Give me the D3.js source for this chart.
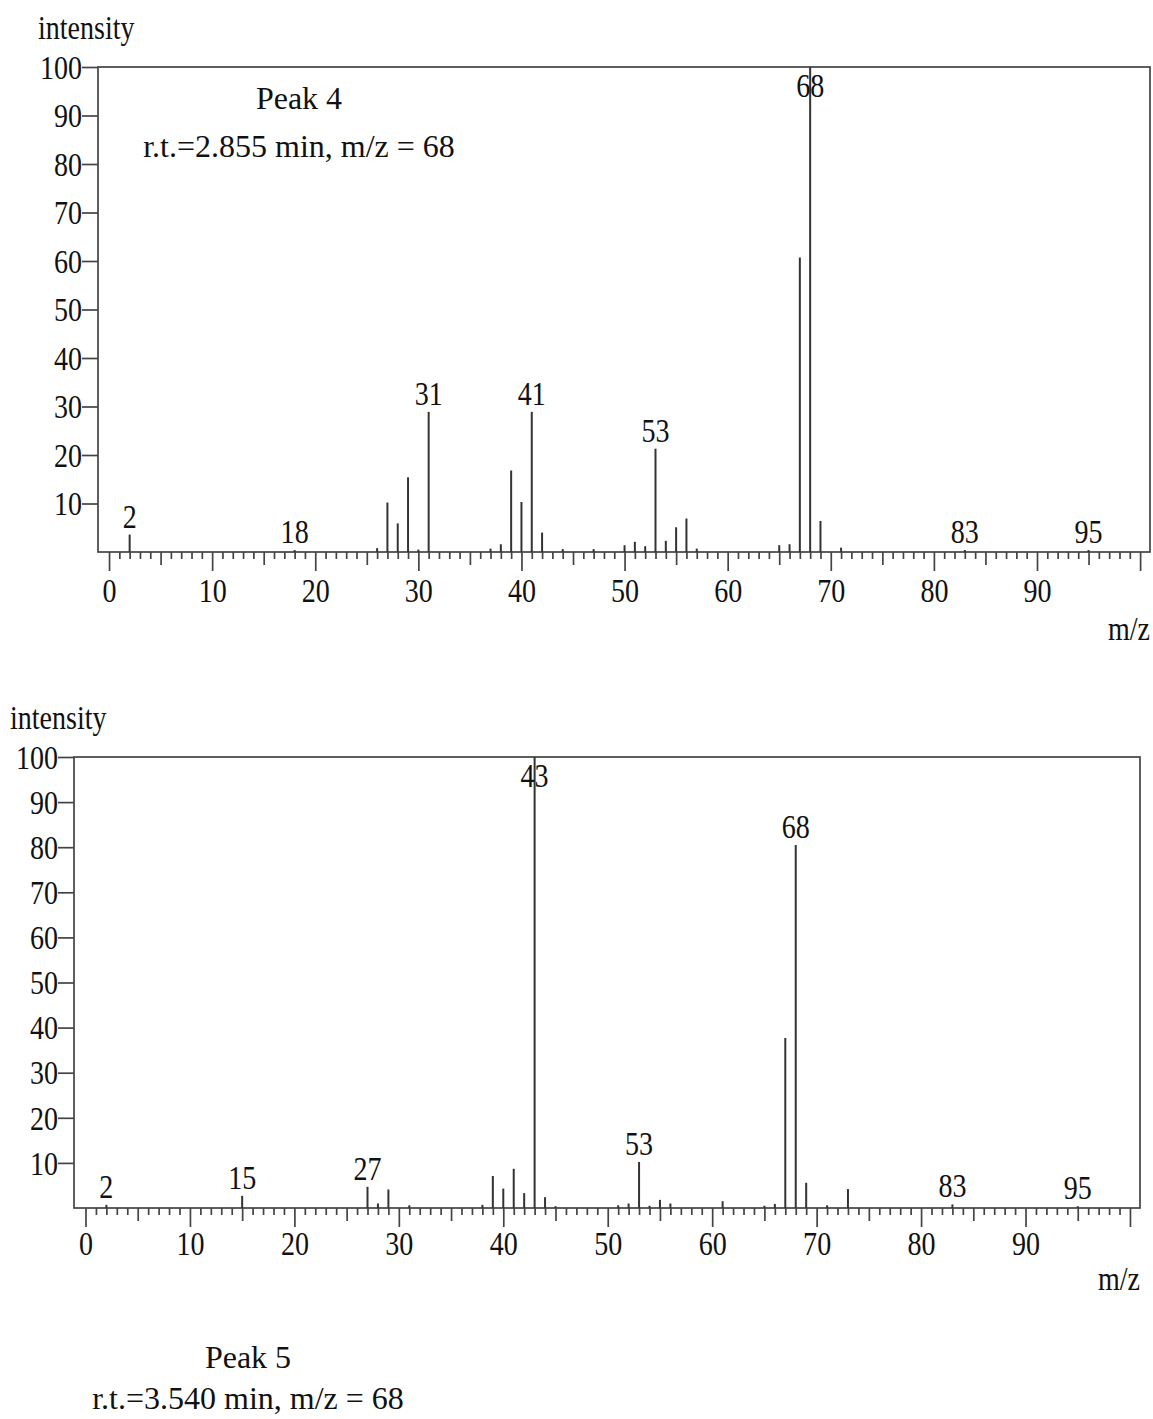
<!DOCTYPE html>
<html>
<head>
<meta charset="utf-8">
<script src="https://cdn.jsdelivr.net/npm/d3@7/dist/d3.min.js"></script>
<style>
  body { margin: 0; background: #fff; }
  svg, svg text { font-family: "Liberation Serif", "Times New Roman", serif; }
</style>
</head>
<body>
<div id="chart"></div>
<script>
// Peak 4 spectrum (m/z, relative intensity)
const peak4Mz  = [2, 18, 26, 27, 28, 29, 30, 31, 37, 38, 39, 40, 41, 42, 44, 47, 50, 51, 52, 53, 54, 55, 56, 57, 65, 66, 67, 68, 69, 71, 83, 95];
const peak4Int = [3.6, 0.4, 0.8, 10.2, 5.9, 15.4, 0.5, 28.9, 0.7, 1.6, 16.8, 10.3, 28.9, 4.0, 0.6, 0.6, 1.4, 2.1, 1.2, 21.3, 2.3, 5.1, 6.9, 0.7, 1.4, 1.6, 60.7, 100, 6.4, 0.9, 0.4, 0.4];
const peak4Labels = [2, 18, 31, 41, 53, 68, 83, 95];

// Peak 5 spectrum
const peak5Mz  = [2, 15, 27, 28, 29, 31, 38, 39, 40, 41, 42, 43, 44, 45, 51, 52, 53, 54, 55, 56, 61, 65, 66, 67, 68, 69, 71, 73, 83, 95];
const peak5Int = [0.7, 2.7, 4.7, 1.0, 4.1, 0.6, 0.7, 7.1, 4.3, 8.7, 3.3, 100, 2.4, 0.4, 0.6, 1.0, 10.2, 0.5, 1.8, 1.0, 1.5, 0.5, 0.9, 37.7, 80.5, 5.6, 0.6, 4.2, 0.8, 0.4];
const peak5Labels = [2, 15, 27, 43, 53, 68, 83, 95];

const yTicks = [10, 20, 30, 40, 50, 60, 70, 80, 90, 100];
const xTicks = d3.range(0, 101);
const xTickLabels = [0, 10, 20, 30, 40, 50, 60, 70, 80, 90];

const W = 1153, H = 1419;
const FONT = "Liberation Serif, Times New Roman, serif";
const SQ = 0.85; // chart lettering is narrow in the original

const svg = d3.select("#chart")
  .append("svg")
  .attr("width", W)
  .attr("height", H)
  .attr("viewBox", "0 0 " + W + " " + H);

// move x/y into a transform so the glyphs can be squeezed sideways
function squeeze(sel) {
  sel.each(function() {
    const t = d3.select(this);
    const x = +t.attr("x") || 0, y = +t.attr("y") || 0;
    t.attr("x", 0).attr("y", 0)
      .attr("transform", "translate(" + x + "," + y + ") scale(" + SQ + ",1)");
  });
}

function spectrum(opts) {
  const x = d3.scaleLinear().domain([opts.x0, opts.x1]).range([opts.left, opts.right]);
  const y = d3.scaleLinear().domain([0, 100]).range([opts.bottom, opts.top]);
  const g = svg.append("g");

  // frame
  g.append("rect")
    .attr("x", opts.left)
    .attr("y", opts.top)
    .attr("width", opts.right - opts.left)
    .attr("height", opts.bottom - opts.top)
    .attr("fill", "none")
    .attr("stroke", "#444")
    .attr("stroke-width", 1.7);

  // y axis
  const ya = g.append("g")
    .attr("transform", "translate(" + opts.left + ",0)")
    .call(d3.axisLeft(y).tickValues(yTicks).tickSize(16).tickPadding(0));
  ya.attr("font-family", FONT);
  ya.select(".domain").remove();
  ya.selectAll("line").attr("stroke", "#444").attr("stroke-width", 1.7);
  ya.selectAll("text")
    .attr("font-size", 33)
    .attr("fill", "#111")
    .attr("dy", "0.34em")
    .call(squeeze);

  // x axis, minor every 1, medium every 5, major every 10
  const xa = g.append("g")
    .attr("transform", "translate(0," + opts.bottom + ")")
    .call(d3.axisBottom(x).tickValues(xTicks).tickSize(7)
      .tickFormat(d => xTickLabels.includes(d) ? d : ""));
  xa.attr("font-family", FONT);
  xa.select(".domain").remove();
  xa.selectAll("line")
    .attr("stroke", "#444")
    .attr("stroke-width", 1.7)
    .attr("y2", d => d % 10 === 0 ? 19 : (d % 5 === 0 ? 13 : 7));
  xa.selectAll("text")
    .attr("font-size", 33)
    .attr("fill", "#111")
    .attr("y", opts.xLabelY)
    .attr("dy", 0)
    .call(squeeze);

  // peaks
  g.selectAll(".peak")
    .data(opts.mz.map((m, i) => ({ mz: m, v: opts.int[i] })))
    .enter()
    .append("line")
    .attr("class", "peak")
    .attr("x1", d => x(d.mz))
    .attr("x2", d => x(d.mz))
    .attr("y1", y(0))
    .attr("y2", d => y(d.v))
    .attr("stroke", "#333")
    .attr("stroke-width", 2);

  // peak labels
  g.selectAll(".plabel")
    .data(opts.labels.map(m => ({ mz: m, v: opts.int[opts.mz.indexOf(m)] })))
    .enter()
    .append("text")
    .attr("class", "plabel")
    .attr("x", d => x(d.mz))
    .attr("y", d => Math.max(y(d.v) - 7, opts.top + 30))
    .attr("text-anchor", "middle")
    .attr("font-size", 33)
    .attr("fill", "#111")
    .text(d => d.mz)
    .call(squeeze);

  g.append("text")
    .attr("x", opts.yTitleX)
    .attr("y", opts.top - 28)
    .attr("font-size", 33)
    .attr("fill", "#111")
    .text("intensity")
    .call(squeeze);

  g.append("text")
    .attr("x", opts.right)
    .attr("y", opts.bottom + opts.mzGap)
    .attr("text-anchor", "end")
    .attr("font-size", 33)
    .attr("fill", "#111")
    .text("m/z")
    .call(squeeze);

  g.append("text")
    .attr("x", opts.noteX)
    .attr("y", opts.noteY)
    .attr("text-anchor", "middle")
    .attr("font-size", 32)
    .attr("fill", "#111")
    .text(opts.title);

  g.append("text")
    .attr("x", opts.noteX)
    .attr("y", opts.noteY + opts.noteGap)
    .attr("text-anchor", "middle")
    .attr("font-size", 32)
    .attr("fill", "#111")
    .text(opts.subtitle);
}

spectrum({
  mz: peak4Mz, int: peak4Int, labels: peak4Labels,
  left: 98, right: 1150, top: 67, bottom: 552,
  x0: -1.07, x1: 100.96,
  xLabelY: 50, mzGap: 88,
  yTitleX: 38,
  title: "Peak 4", subtitle: "r.t.=2.855 min, m/z = 68",
  noteX: 299, noteY: 109, noteGap: 48
});

spectrum({
  mz: peak5Mz, int: peak5Int, labels: peak5Labels,
  left: 74, right: 1140, top: 757, bottom: 1208,
  x0: -1.1, x1: 100.96,
  xLabelY: 47, mzGap: 82,
  yTitleX: 10,
  title: "Peak 5", subtitle: "r.t.=3.540 min, m/z = 68",
  noteX: 248, noteY: 1368, noteGap: 41
});
</script>
</body>
</html>
